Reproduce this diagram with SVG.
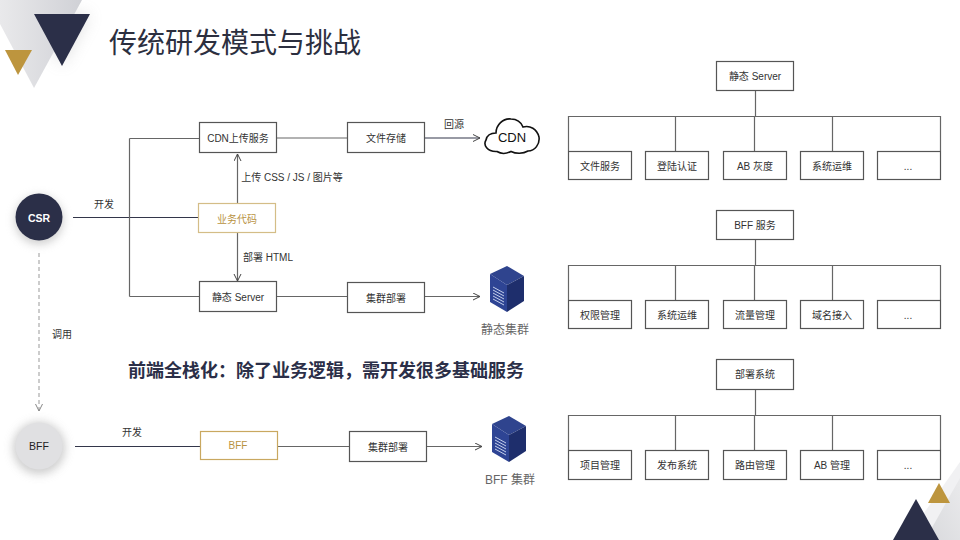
<svg xmlns="http://www.w3.org/2000/svg" width="960" height="540" viewBox="0 0 960 540">
<style>
text{font-family:"Liberation Sans","Noto Sans CJK SC",sans-serif;font-size:10px;fill:#333;text-anchor:middle}
.box{fill:#fff;stroke:#555;stroke-width:1.200}
.gold{fill:#fff;stroke:#d4bd87;stroke-width:1.200}
.ln{fill:none;stroke:#666;stroke-width:1.200}
.dk{fill:none;stroke:#33364a;stroke-width:1.200}
.lbl{fill:#666;font-size:12px}
</style>
<defs>
<marker id="ah" markerWidth="10" markerHeight="10" refX="8" refY="4" orient="auto" markerUnits="userSpaceOnUse"><path d="M1 0.500L8 4L1 7.500" fill="none" stroke="#444" stroke-width="1"/></marker>
<marker id="ahg" markerWidth="10" markerHeight="10" refX="8" refY="4" orient="auto" markerUnits="userSpaceOnUse"><path d="M1 0.500L8 4L1 7.500" fill="none" stroke="#888" stroke-width="1"/></marker>
<filter id="sh" x="-60%" y="-60%" width="220%" height="220%"><feGaussianBlur stdDeviation="5"/></filter>
<filter id="s2" x="-40%" y="-40%" width="180%" height="180%"><feGaussianBlur stdDeviation="8"/></filter>
<linearGradient id="gt" x1="0" y1="0" x2="1" y2="0"><stop offset="0" stop-color="#e9e9eb"/><stop offset="1" stop-color="#d0d1d6"/></linearGradient>
<linearGradient id="gb" x1="0" y1="1" x2="1" y2="0"><stop offset="0" stop-color="#d8d9dc"/><stop offset="1" stop-color="#eaeaec"/></linearGradient>
<g id="server">
<path d="M0 8L17 0L34 10L17 19Z" fill="#2f448e"/>
<path d="M0 8L17 19V46L0 36Z" fill="#2e4494"/>
<path d="M17 19L34 10V35L17 46Z" fill="#1e2e6c"/>
<path d="M3 21L14 27M3 24L14 30M3 27L14 33M3 30L14 36M3 33L14 39" stroke="#c4cfeb" stroke-width="1" fill="none"/>
</g>
</defs>

<g id="decor-top">
<path d="M34 14H90L62 66Z" fill="#888" opacity=".25" filter="url(#s2)"/>
<path d="M0 24L34 88L82 0H0Z" fill="url(#gt)"/>
<path d="M34 14H90L62 66Z" fill="#2b2f48"/>
<path d="M5 50H32L18 75Z" fill="#bd953e"/>
</g>
<g id="decor-bottom">
<path d="M960 462L905 540H960Z" fill="#f1f1f3"/>
<path d="M960 478L925 540H960Z" fill="url(#gb)"/>
<path d="M916 499L939 540H893Z" fill="#2b2f48"/>
<path d="M939 483L950 503H928Z" fill="#bd953e"/>
</g>
<text id="title" x="235" y="53" style="font-size:28px;fill:#2c2f3f">传统研发模式与挑战</text>

<g id="connectors">
<path class="dk" d="M73 217.500H198"/>
<path class="ln" d="M129.500 138.500V296.500"/>
<path class="ln" d="M129.500 138.500H199M129.500 296.500H199"/>
<path class="ln" d="M276 138H347"/>
<path class="dk" d="M424 138H480" marker-end="url(#ah)"/>
<path class="ln" d="M237.500 203V154" marker-end="url(#ah)"/>
<path class="ln" d="M237.500 233V281" marker-end="url(#ah)"/>
<path class="ln" d="M277 296.500H347"/>
<path class="ln" d="M424 296.500H480" marker-end="url(#ah)"/>
<path d="M39 253V411" fill="none" stroke="#999" stroke-width="1" stroke-dasharray="4 3" marker-end="url(#ahg)"/>
<path class="dk" d="M75 446.500H200"/>
<path class="ln" d="M277 446.500H349"/>
<path class="ln" d="M426 446.500H482" marker-end="url(#ah)"/>
<path class="ln" d="M755.500 91V116M755.500 240V265M755.500 390V415"/>
<path class="ln" d="M568.500 151V116.500H940.500V151M568.500 300V265.500H940.500V300M568.500 450V415.500H940.500V450"/>
<path class="ln" d="M675.500 116V151M754.500 116V151M832.500 116V151M675.500 265V300M754.500 265V300M832.500 265V300M675.500 415V450M754.500 415V450M832.500 415V450"/>
</g>

<g id="csr"><circle cx="39" cy="220" r="24" fill="#999" opacity=".5" filter="url(#sh)"/><circle cx="39" cy="217" r="23.500" fill="#2b2f48"/><text x="39" y="221.500" style="font-size:10.500px;fill:#fff;font-weight:bold">CSR</text></g>
<g id="bff"><circle cx="39" cy="448" r="26" fill="#aaa" opacity=".6" filter="url(#sh)"/><circle cx="39" cy="446" r="23.500" fill="#e0e0e2"/><text x="39" y="450" style="font-size:10.500px;fill:#222">BFF</text></g>
<text x="104" y="208">开发</text>
<text x="62" y="338">调用</text>
<text x="132" y="436">开发</text>
<text x="454" y="128">回源</text>
<text x="292" y="181">上传 CSS / JS / 图片等</text>
<text x="268" y="261">部署 HTML</text>
<text id="headline" x="326" y="377" style="font-size:18px;font-weight:bold;fill:#2b2f48">前端全栈化：除了业务逻辑，需开发很多基础服务</text>

<g id="n-cdnup"><rect class="box" x="199.500" y="122.500" width="77" height="30"/><text x="238" y="142">CDN上传服务</text></g>
<g id="n-file"><rect class="box" x="347.500" y="122.500" width="77" height="30"/><text x="386" y="142">文件存储</text></g>
<g id="n-biz"><rect class="gold" x="198.500" y="203.500" width="77" height="29"/><text x="237" y="222.500" style="fill:#b8923f">业务代码</text></g>
<g id="n-static"><rect class="box" x="199.500" y="281.500" width="77" height="30"/><text x="238" y="301">静态 Server</text></g>
<g id="n-deploy1"><rect class="box" x="347.500" y="282.500" width="77" height="30"/><text x="386" y="302">集群部署</text></g>
<g id="n-bffbox"><rect class="gold" x="200.500" y="431.500" width="77" height="28" style="stroke:#c9a860"/><text x="238" y="449" style="fill:#b8923f">BFF</text></g>
<g id="n-deploy2"><rect class="box" x="349.500" y="431.500" width="77" height="30"/><text x="388" y="451">集群部署</text></g>

<g id="cdn"><path d="M497 151.500C487 152 483 145 486 140C487 135 491 133 496 133C496 125 503 118 511 119C517 119 521 122 523 127C530 125 537 129 539 137C540 144 535 151 528 151C523 154 516 154 511 151.500C506 154 501 154 497 151.500Z" fill="#fff" stroke="#111" stroke-width="1.600"/><text x="512" y="142" style="font-size:13px;fill:#111">CDN</text></g>
<g id="srv1"><use href="#server" x="490" y="266"/><text x="505" y="334" class="lbl">静态集群</text></g>
<g id="srv2"><use href="#server" x="492" y="416"/><text x="510" y="484" class="lbl">BFF 集群</text></g>

<g id="t1"><rect class="box" x="716.500" y="61.500" width="77" height="29"/><text x="755" y="80">静态 Server</text></g>
<g id="t1a"><rect class="box" x="568.500" y="151.500" width="63" height="28"/><text x="600" y="170">文件服务</text></g>
<g id="t1b"><rect class="box" x="645.500" y="151.500" width="63" height="28"/><text x="677" y="170">登陆认证</text></g>
<g id="t1c"><rect class="box" x="723.500" y="151.500" width="63" height="28"/><text x="755" y="170">AB 灰度</text></g>
<g id="t1d"><rect class="box" x="800.500" y="151.500" width="63" height="28"/><text x="832" y="170">系统运维</text></g>
<g id="t1e"><rect class="box" x="877.500" y="151.500" width="63" height="28"/><text x="908" y="170">...</text></g>

<g id="t2"><rect class="box" x="716.500" y="210.500" width="77" height="29"/><text x="755" y="229">BFF 服务</text></g>
<g id="t2a"><rect class="box" x="568.500" y="300.500" width="63" height="28"/><text x="600" y="319">权限管理</text></g>
<g id="t2b"><rect class="box" x="645.500" y="300.500" width="63" height="28"/><text x="677" y="319">系统运维</text></g>
<g id="t2c"><rect class="box" x="723.500" y="300.500" width="63" height="28"/><text x="755" y="319">流量管理</text></g>
<g id="t2d"><rect class="box" x="800.500" y="300.500" width="63" height="28"/><text x="832" y="319">域名接入</text></g>
<g id="t2e"><rect class="box" x="877.500" y="300.500" width="63" height="28"/><text x="908" y="319">...</text></g>

<g id="t3"><rect class="box" x="716.500" y="359.500" width="77" height="30"/><text x="755" y="378">部署系统</text></g>
<g id="t3a"><rect class="box" x="568.500" y="450.500" width="63" height="29"/><text x="600" y="469">项目管理</text></g>
<g id="t3b"><rect class="box" x="645.500" y="450.500" width="63" height="29"/><text x="677" y="469">发布系统</text></g>
<g id="t3c"><rect class="box" x="723.500" y="450.500" width="63" height="29"/><text x="755" y="469">路由管理</text></g>
<g id="t3d"><rect class="box" x="800.500" y="450.500" width="63" height="29"/><text x="832" y="469">AB 管理</text></g>
<g id="t3e"><rect class="box" x="877.500" y="450.500" width="63" height="29"/><text x="908" y="469">...</text></g>
</svg>
